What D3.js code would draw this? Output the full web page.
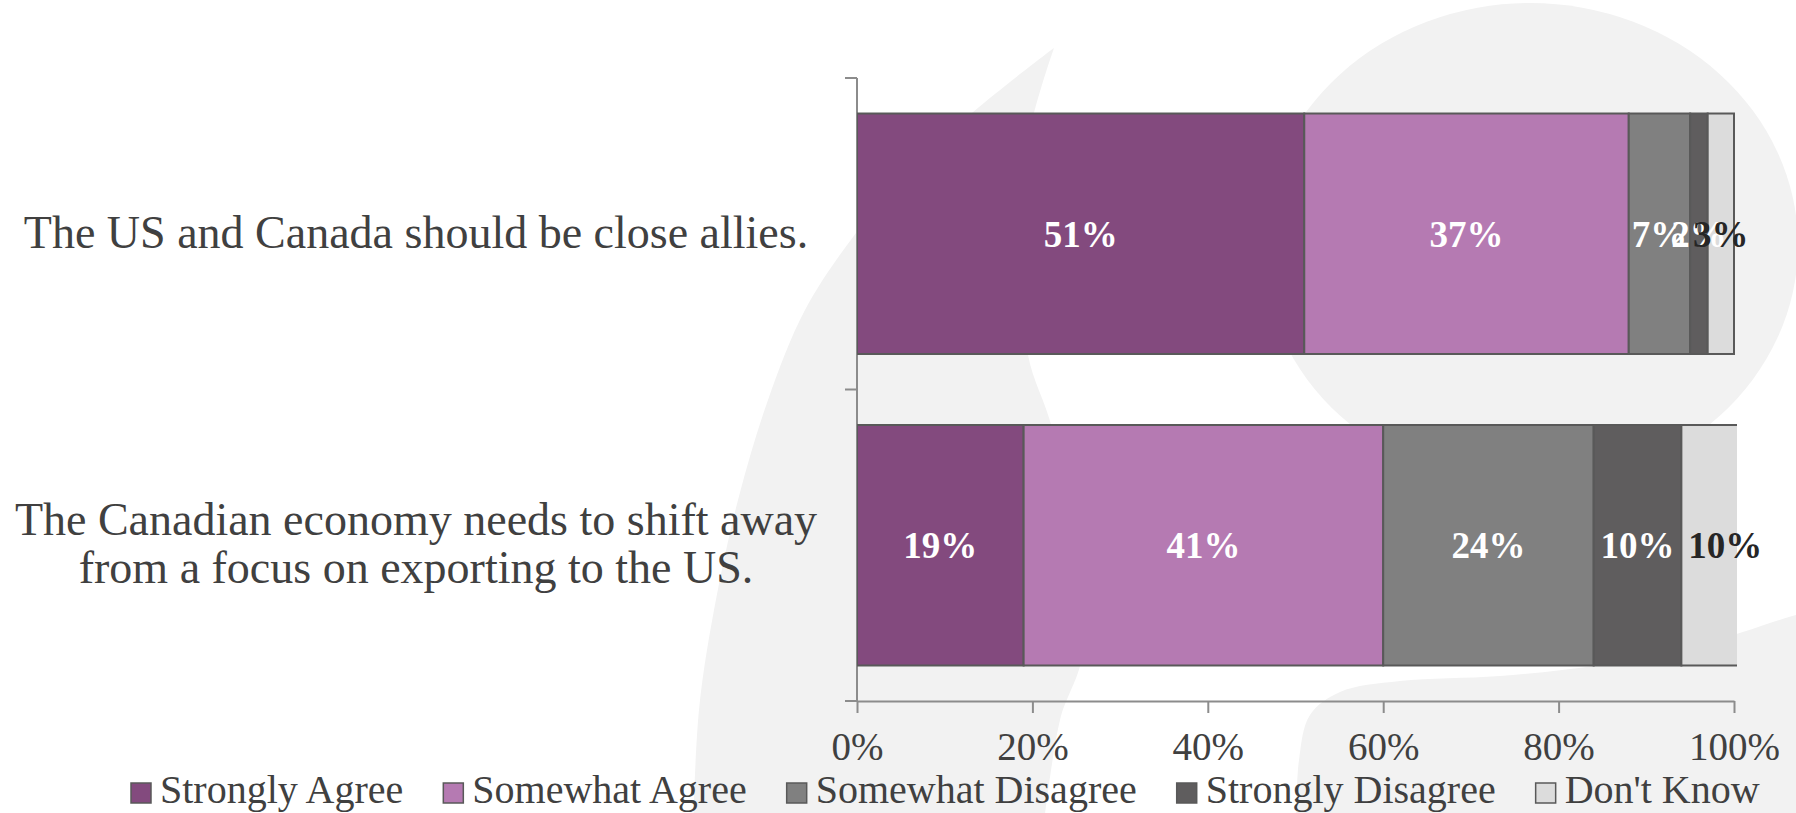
<!DOCTYPE html>
<html><head><meta charset="utf-8">
<script src="https://cdn.jsdelivr.net/npm/d3@7"></script>
<style>html,body{margin:0;padding:0;background:#fff;overflow:hidden}</style>
</head><body><svg id="c" width="1796" height="813"></svg>
<script>
// ---------- data ----------
const categories = ["The US and Canada should be close allies.",
                    "The Canadian economy needs to shift away from a focus on exporting to the US."];
const categoryLines = [["The US and Canada should be close allies."],
                       ["The Canadian economy needs to shift away", "from a focus on exporting to the US."]];
const seriesNames = ["Strongly Agree", "Somewhat Agree", "Somewhat Disagree", "Strongly Disagree", "Don't Know"];
const stronglyAgree    = [51, 19];
const somewhatAgree    = [37, 41];
const somewhatDisagree = [7, 24];
const stronglyDisagree = [2, 10];
const dontKnow         = [3, 10];
const xTicks = [0, 20, 40, 60, 80, 100];
const xTickLabels = ["0%", "20%", "40%", "60%", "80%", "100%"];

// ---------- styles ----------
const seriesColors = ["#834a7e", "#b57ab2", "#808080", "#5f5d5e", "#dcdcdc"];
const labelColors  = ["#ffffff", "#ffffff", "#ffffff", "#ffffff", "#262626"];
const FONT = "'Liberation Serif', 'Times New Roman', serif";
const TEXT = "#404040";
const AXIS = "#8c8c8c";

const svg = d3.select("#c");

// ---------- decorative background ----------
const bgLine = d3.line().curve(d3.curveCatmullRom.alpha(0.5));
const leftOuter = [[1054,48],[972,113],[900,182],[856,233],[805,310],[768,400],[738,500],[714,610],[699,710],[693,830]];
const leftInner = [[1043,830],[1060,720],[1082,655],[1072,540],[1052,428],[1028,355],[1022,250],[1028,140],[1054,48]];
svg.append("path")
  .attr("d", bgLine(leftOuter) + bgLine(leftInner).replace(/^M/, "L") + "Z")
  .attr("fill", "#f2f2f2");
svg.append("ellipse").attr("cx", 1530).attr("cy", 245).attr("rx", 268).attr("ry", 242).attr("fill", "#f2f2f2");
const rightLow = [[1810,612],[1796,615],[1700,645],[1600,665],[1500,676],[1400,681],[1340,692],[1310,715],[1299,760],[1296,830]];
svg.append("path")
  .attr("d", bgLine(rightLow) + "L1810,830Z")
  .attr("fill", "#f2f2f2");

// ---------- scales ----------
const x = d3.scaleLinear().domain([0, 100]).range([857, 1734]);
const y = d3.scaleBand().domain(categories).range([78, 701]).paddingInner(0.228).paddingOuter(0.114);

// ---------- table / stack ----------
const seriesArrays = [stronglyAgree, somewhatAgree, somewhatDisagree, stronglyDisagree, dontKnow];
const table = categories.map((c, i) => {
  const row = {category: c};
  seriesNames.forEach((s, j) => row[s] = seriesArrays[j][i]);
  return row;
});
const stacked = d3.stack().keys(seriesNames)(table);

// ---------- axes ----------
// x axis
const xAxisG = svg.append("g").attr("transform", `translate(0,${y.range()[1]})`)
  .call(d3.axisBottom(x).tickValues(xTicks).tickFormat((d, i) => xTickLabels[i]).tickSize(12).tickSizeOuter(0));
xAxisG.select(".domain").attr("stroke", AXIS).attr("stroke-width", 2);
xAxisG.selectAll(".tick line").attr("stroke", AXIS).attr("stroke-width", 2);
xAxisG.selectAll(".tick text").attr("y", 59).attr("dy", null)
  .attr("fill", TEXT).style("font-family", FONT).style("font-size", "39px");

// y axis (ticks at category boundaries)
const yAxisG = svg.append("g");
const yTop = y.range()[0], yBot = y.range()[1];
yAxisG.append("line").attr("x1", x(0)).attr("x2", x(0)).attr("y1", yTop).attr("y2", yBot)
  .attr("stroke", AXIS).attr("stroke-width", 2);
d3.range(categories.length + 1).forEach(i => {
  const yy = yTop + i * y.step();
  yAxisG.append("line").attr("x1", x(0) - 12).attr("x2", x(0)).attr("y1", yy).attr("y2", yy)
    .attr("stroke", AXIS).attr("stroke-width", 2);
});

// category labels
const catG = svg.append("g");
categories.forEach((c, i) => {
  const lines = categoryLines[i];
  const cy = y(c) + y.bandwidth() / 2;
  const lh = 48;
  const t = catG.append("text").attr("text-anchor", "middle").attr("fill", TEXT)
    .style("font-family", FONT).style("font-size", "46px");
  lines.forEach((ln, k) => {
    t.append("tspan").attr("x", 416)
      .attr("y", cy + 14 + (k - (lines.length - 1) / 2) * lh)
      .text(ln);
  });
});

// ---------- bars ----------
svg.append("clipPath").attr("id", "plotClip")
  .append("rect").attr("x", x(0)).attr("y", 0).attr("width", x(100) - x(0) + 3).attr("height", 813);

const barsG = svg.append("g").attr("clip-path", "url(#plotClip)");
stacked.forEach((s, j) => {
  barsG.selectAll(null).data(s).join("rect")
    .attr("x", d => x(d[0]))
    .attr("y", d => y(d.data.category))
    .attr("width", d => x(d[1]) - x(d[0]))
    .attr("height", y.bandwidth())
    .attr("fill", seriesColors[j])
    .attr("stroke", "#595959").attr("stroke-width", 2);
});

// data labels
const lblG = svg.append("g");
stacked.forEach((s, j) => {
  lblG.selectAll(null).data(s).join("text")
    .attr("x", d => x((d[0] + d[1]) / 2))
    .attr("y", d => y(d.data.category) + y.bandwidth() / 2 + 13)
    .attr("text-anchor", "middle")
    .attr("fill", labelColors[j])
    .style("font-family", FONT).style("font-size", "37px").style("font-weight", "bold")
    .text(d => (d[1] - d[0]) + "%");
});

// ---------- legend ----------
const legG = svg.append("g");
let lx = 131;
seriesNames.forEach((name, j) => {
  legG.append("rect").attr("x", lx).attr("y", 783).attr("width", 20).attr("height", 20)
    .attr("fill", seriesColors[j]).attr("stroke", "#595959").attr("stroke-width", 1.5);
  const t = legG.append("text").attr("x", lx + 29).attr("y", 803).attr("fill", TEXT)
    .style("font-family", FONT).style("font-size", "40px").text(name);
  lx = lx + 29 + t.node().getComputedTextLength() + 40;
});
</script>
</body></html>
